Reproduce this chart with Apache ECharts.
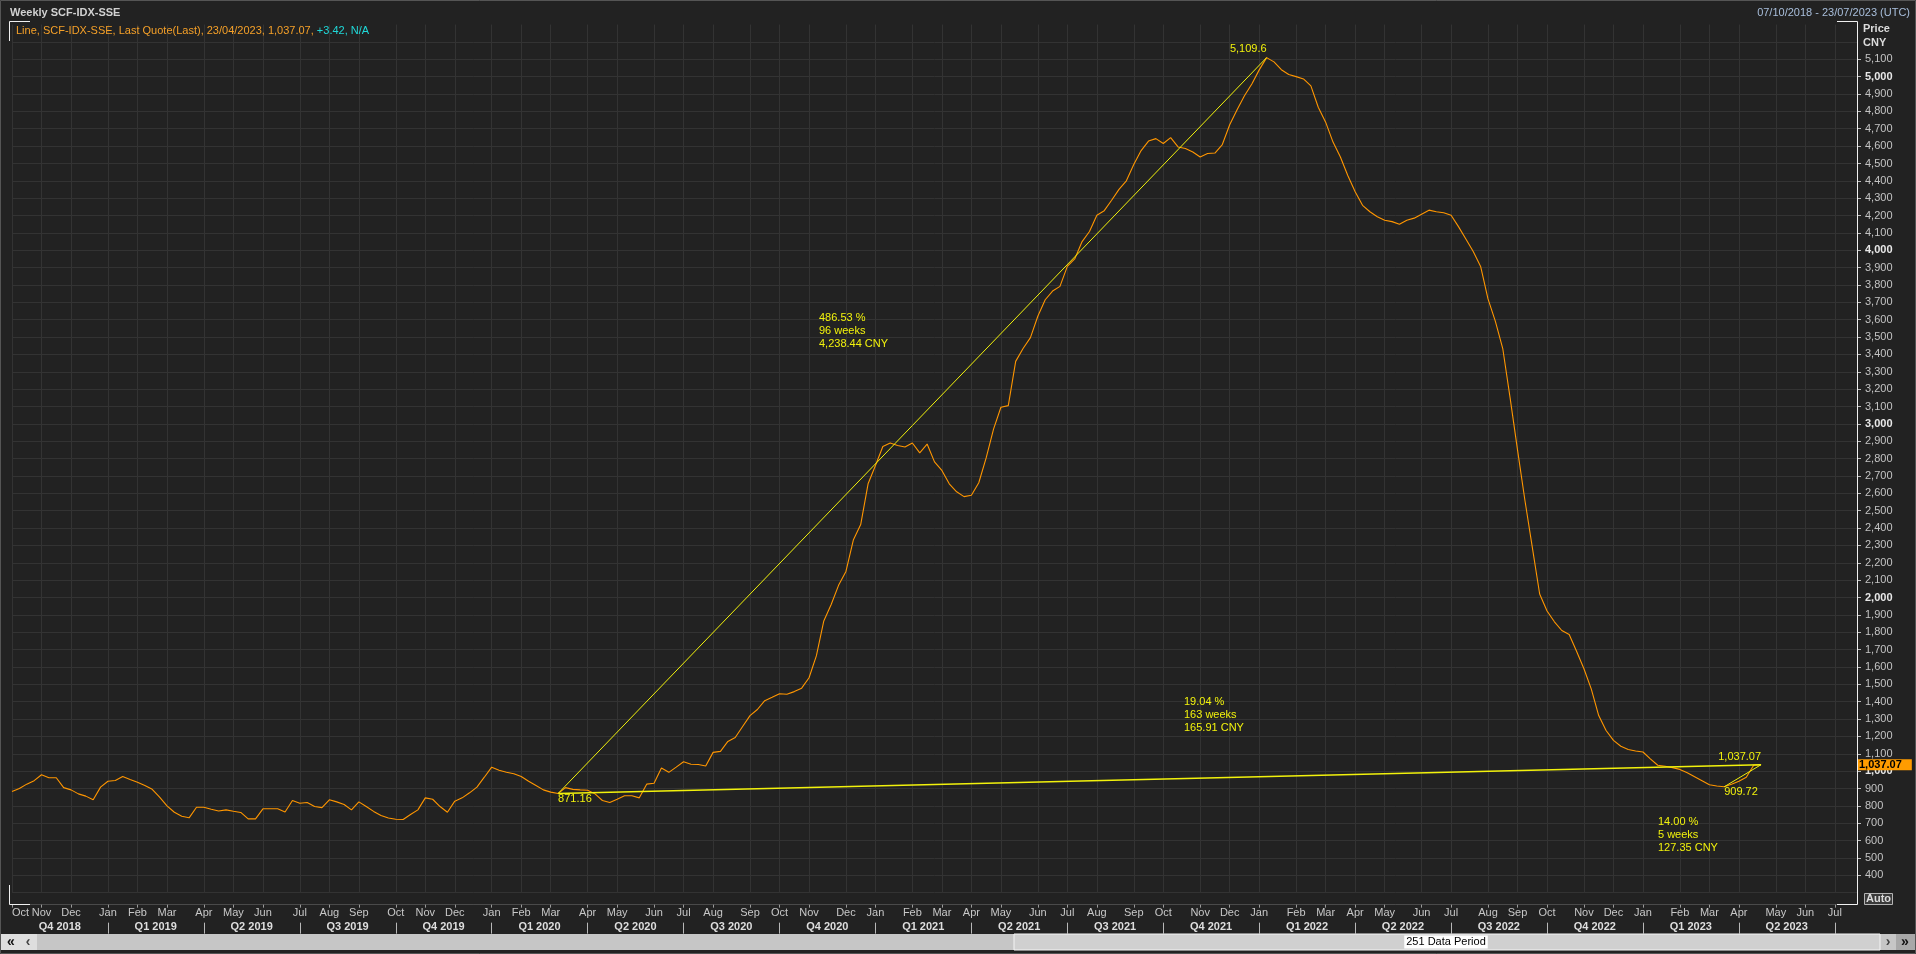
<!DOCTYPE html>
<html><head><meta charset="utf-8">
<script src="https://cdn.jsdelivr.net/npm/echarts@6/dist/echarts.min.js"></script>
<style>html,body{margin:0;padding:0;background:#222222;}#c{width:1916px;height:954px;}</style>
</head><body><div id="c"></div>
<script>
// ---------- DATA ----------
const startDate = [2018, 9, 7];          // 07/10/2018 (first weekly period)
const periodCount = 251;                  // 251 data periods shown on the axis
const monthNames = ['Jan','Feb','Mar','Apr','May','Jun','Jul','Aug','Sep','Oct','Nov','Dec'];
// Weekly SCF-IDX-SSE close (CNY), 07/10/2018 .. 23/04/2023
const prices = [
 882, 900, 925, 945, 979, 962, 962, 905, 892, 869,
 856, 835, 908, 942, 946, 969, 952, 936, 917, 895,
 850, 800, 763, 740, 731, 792, 792, 780, 770, 777,
 769, 762, 725, 725, 783, 783, 783, 765, 831, 815,
 819, 796, 790, 835, 823, 808, 777, 823, 796, 768,
 745, 730, 723, 721, 750, 777, 846, 838, 796, 763,
 827, 846, 875, 908, 965, 1023, 1005, 994, 985, 969,
 942, 917, 892, 879, 871.16, 905, 895, 892, 890, 869,
 831, 819, 838, 858, 858, 846, 925, 930, 1018, 993,
 1023, 1054, 1040, 1038, 1030, 1108, 1114, 1171, 1194, 1257,
 1320, 1355, 1406, 1425, 1446, 1443, 1458, 1478, 1538, 1665,
 1865, 1960, 2070, 2150, 2331, 2420, 2655, 2760, 2870, 2890,
 2876, 2867, 2890, 2833, 2884, 2781, 2732, 2655, 2609, 2581,
 2589, 2661, 2804, 2970, 3096, 3105, 3360, 3434, 3497, 3620,
 3715, 3765, 3792, 3907, 3950, 4050, 4108, 4202, 4228, 4288,
 4351, 4400, 4494, 4574, 4629, 4643, 4615, 4649, 4595, 4586,
 4566, 4537, 4557, 4560, 4609, 4723, 4809, 4890, 4958, 5039,
 5109.6, 5085, 5040, 5012, 5000, 4987, 4947, 4824, 4738, 4623,
 4537, 4431, 4337, 4259, 4222, 4193, 4173, 4165, 4150, 4173,
 4185, 4208, 4231, 4222, 4216, 4202, 4136, 4065, 3993, 3907,
 3720, 3590, 3434, 3148, 2850, 2560, 2290, 2020, 1922, 1860,
 1810, 1787, 1690, 1590, 1472, 1320, 1234, 1177, 1143, 1125,
 1116, 1110, 1071, 1034, 1028, 1020, 1010, 990, 968, 945,
 922, 914, 909.72, 925, 942, 965, 1033.65, 1037.07
];
// trend lines drawn between two weekly points (indices into prices)
const trendFrom = [74, 74, 232];
const trendTo   = [170, 237, 237];
const trendTexts = [
  ['486.53 %', '96 weeks', '4,238.44 CNY'],
  ['19.04 %', '163 weeks', '165.91 CNY'],
  ['14.00 %', '5 weeks', '127.35 CNY']
];
const pointLabelIdx = [74, 170, 237, 232];
const yTickMin = 400, yTickMax = 5100, yStep = 100;
const yGridMin = 300, yGridMax = 5300;

// ---------- build ----------
const categories = [];
for (let k = 0; k < periodCount; k++) {
  const d = new Date(Date.UTC(startDate[0], startDate[1], startDate[2]) + k * 7 * 86400000);
  categories.push(d.toISOString().slice(0, 10));
}
const monthOf = i => +categories[i].slice(5, 7);
const isMonthStart = i => i === 0 || monthOf(i) !== monthOf(i - 1);
const isQuarterStart = i => i > 0 && isMonthStart(i) && (monthOf(i) - 1) % 3 === 0;
const isQLabel = i => i >= 6 && (isQuarterStart(i - 6) || i - 6 === 0);
const fmtNum = v => String(v).replace(/\B(?=(\d{3})+(?!\d))/g, ',');
const fmt2 = v => { const s = v.toFixed(2).split('.'); return fmtNum(+s[0]) + '.' + s[1]; };

const YEL = '#f2f20c';
const ORANGE = '#ff9600';
const FONT = 'Liberation Sans, Arial, sans-serif';
const lastIdx = prices.length - 1;

const markLineData = trendFrom.map((f, k) => ([
  { coord: [categories[f], prices[f]], lineStyle: { color: YEL, width: k === 1 ? 1.6 : 1, type: 'solid' }, label: { show: false } },
  { coord: [categories[trendTo[k]], prices[trendTo[k]]] }
]));
markLineData.push({
  yAxis: prices[lastIdx],
  lineStyle: { color: 'rgba(0,0,0,0)', width: 1, type: 'solid' },
  label: {
    show: true, position: 'end', distance: 0, formatter: fmt2(prices[lastIdx]),
    backgroundColor: '#ff9c00', color: '#000', fontWeight: 'bold', fontSize: 11,
    fontFamily: FONT, padding: [0, 10, 0, 2], lineHeight: 11
  }
});

const labelFmt = [v => fmt2(v), v => fmtNum(Math.floor(v)) + '.' + String(v).split('.')[1], v => fmt2(v), v => fmt2(v)];
const labelPos = [
  { align: 'left', verticalAlign: 'top', offset: [0, 0] },
  { align: 'right', verticalAlign: 'bottom', offset: [0, -3] },
  { align: 'right', verticalAlign: 'bottom', offset: [0, -2] },
  { align: 'left', verticalAlign: 'top', offset: [0, 0] }
];
const markPointData = pointLabelIdx.map((idx, k) => ({
  coord: [categories[idx], prices[idx]],
  symbolSize: 0,
  label: Object.assign({
    show: true, position: 'inside', formatter: labelFmt[k](prices[idx]),
    color: YEL, fontSize: 11, fontFamily: FONT
  }, labelPos[k])
}));

const annotPos = [[819, 311], [1184, 695], [1658, 815]];
const graphics = [
  // outer border
  { type: 'rect', z: 100, shape: { x: 0.5, y: 0.5, width: 1915, height: 953 }, style: { fill: null, stroke: '#555', lineWidth: 1 } },
  { type: 'text', z: 100, style: { text: 'Weekly SCF-IDX-SSE', x: 10, y: 12.5, fill: '#d2d2d2', font: 'bold 11px ' + FONT, textVerticalAlign: 'middle', verticalAlign: 'middle' } },
  { type: 'text', z: 100, style: {
      text: '{o|Line, SCF-IDX-SSE, Last Quote(Last), 23/04/2023, ' + fmt2(prices[lastIdx]) + ', }{c|+3.42, N/A}',
      x: 16, y: 30.5, textVerticalAlign: 'middle', verticalAlign: 'middle',
      rich: { o: { fill: '#f5a028', color: '#f5a028', fontSize: 11, fontFamily: FONT }, c: { fill: '#20d8d8', color: '#20d8d8', fontSize: 11, fontFamily: FONT } }
  } },
  { type: 'text', z: 100, style: { text: '07/10/2018 - 23/07/2023 (UTC)', x: 1910, y: 12.5, fill: '#a9bfdc', font: '11px ' + FONT, textAlign: 'right', align: 'right', textVerticalAlign: 'middle', verticalAlign: 'middle' } },
  { type: 'text', z: 100, style: { text: 'Price', x: 1863, y: 28.5, fill: '#dcdcdc', font: 'bold 11px ' + FONT, textVerticalAlign: 'middle', verticalAlign: 'middle' } },
  { type: 'text', z: 100, style: { text: 'CNY', x: 1863, y: 43, fill: '#dcdcdc', font: 'bold 11px ' + FONT, textVerticalAlign: 'middle', verticalAlign: 'middle' } },
  // frame corners + right axis line
  { type: 'polyline', z: 100, shape: { points: [[9.5, 41], [9.5, 21.5], [30, 21.5]] }, style: { stroke: '#f0f0f0', lineWidth: 1, fill: null } },
  { type: 'polyline', z: 100, shape: { points: [[9.5, 885], [9.5, 904.5], [30, 904.5]] }, style: { stroke: '#f0f0f0', lineWidth: 1, fill: null } },
  { type: 'polyline', z: 100, shape: { points: [[1837, 21.5], [1857.5, 21.5], [1857.5, 904.5], [1837, 904.5]] }, style: { stroke: '#f0f0f0', lineWidth: 1, fill: null } },
  // Auto box
  { type: 'rect', z: 100, shape: { x: 1864.5, y: 893.5, width: 28, height: 11 }, style: { fill: '#3a3a3a', stroke: '#b4b4b4', lineWidth: 1 } },
  { type: 'text', z: 101, style: { text: 'Auto', x: 1878.5, y: 899, fill: '#dcdcdc', font: 'bold 11px ' + FONT, textAlign: 'center', align: 'center', textVerticalAlign: 'middle', verticalAlign: 'middle' } },
  // scrollbar
  { type: 'rect', z: 100, shape: { x: 1, y: 934, width: 1914, height: 16 }, style: { fill: '#c6c6c6' } },
  { type: 'rect', z: 100, shape: { x: 1, y: 934, width: 36, height: 16 }, style: { fill: '#dedede' } },
  { type: 'rect', z: 100, shape: { x: 1014, y: 934, width: 866, height: 16 }, style: { fill: '#d0d0d0', stroke: '#f4f4f4', lineWidth: 1 } },
  { type: 'rect', z: 100, shape: { x: 1896, y: 934, width: 19, height: 16 }, style: { fill: '#a8a8a8' } },
  { type: 'text', z: 101, style: { text: '«', x: 11, y: 942, fill: '#111', font: 'bold 14px ' + FONT, textAlign: 'center', align: 'center', textVerticalAlign: 'middle', verticalAlign: 'middle' } },
  { type: 'text', z: 101, style: { text: '‹', x: 28, y: 942, fill: '#444', font: 'bold 14px ' + FONT, textAlign: 'center', align: 'center', textVerticalAlign: 'middle', verticalAlign: 'middle' } },
  { type: 'text', z: 101, style: { text: '›', x: 1888, y: 942, fill: '#444', font: 'bold 14px ' + FONT, textAlign: 'center', align: 'center', textVerticalAlign: 'middle', verticalAlign: 'middle' } },
  { type: 'text', z: 101, style: { text: '»', x: 1905, y: 942, fill: '#111', font: 'bold 14px ' + FONT, textAlign: 'center', align: 'center', textVerticalAlign: 'middle', verticalAlign: 'middle' } },
  { type: 'text', z: 101, style: { text: periodCount + ' Data Period', x: 1446, y: 942, fill: '#000', font: '11px ' + FONT, textAlign: 'center', align: 'center', textVerticalAlign: 'middle', verticalAlign: 'middle', backgroundColor: '#ffffff', padding: [1, 2] } }
];
trendTexts.forEach((t, k) => {
  graphics.push({ type: 'text', z: 100, style: { text: t.join('\n'), x: annotPos[k][0], y: annotPos[k][1], fill: YEL, font: '11px ' + FONT, lineHeight: 13, textVerticalAlign: 'top', verticalAlign: 'top' } });
});

const chart = echarts.init(document.getElementById('c'), null, { renderer: 'canvas' });
chart.setOption({
  backgroundColor: '#222222',
  animation: false,
  textStyle: { fontFamily: FONT },
  grid: [
    { left: 12, right: 59, top: 24.56, bottom: 954 - 892.66 },
    { left: 12, right: 59, top: 59.3, bottom: 954 - 875.3 }
  ],
  xAxis: [
    {
      type: 'category', gridIndex: 0, data: categories, boundaryGap: false, position: 'bottom', offset: 12,
      axisLine: { show: true, lineStyle: { color: '#4a4a4a' } },
      axisTick: { show: true, interval: isMonthStart, length: 3, lineStyle: { color: '#9a9a9a' } },
      axisLabel: { interval: isMonthStart, alignMinLabel: 'left', formatter: v => monthNames[+v.slice(5, 7) - 1], color: '#c8c8c8', fontSize: 11, margin: 3, fontFamily: FONT },
      splitLine: { show: true, interval: isMonthStart, lineStyle: { color: '#333333' } }
    },
    {
      type: 'category', gridIndex: 0, data: categories, boundaryGap: false, position: 'bottom', offset: 30,
      axisLine: { show: false },
      axisTick: { show: true, interval: isQuarterStart, length: 11, lineStyle: { color: '#b8b8b8' } },
      axisLabel: {
        interval: isQLabel, margin: -1, color: '#dedede', fontWeight: 'bold', fontSize: 11, fontFamily: FONT, padding: [0, 0, 0, 7],
        formatter: (v, i) => { const d = categories[i - 6]; const m = +d.slice(5, 7); return 'Q' + (Math.floor((m - 1) / 3) + 1) + ' ' + d.slice(0, 4); }
      },
      splitLine: { show: false }
    },
    { type: 'category', gridIndex: 1, data: categories, boundaryGap: false, show: false }
  ],
  yAxis: [
    {
      type: 'value', gridIndex: 0, min: yGridMin, max: yGridMax, interval: yStep, position: 'right',
      axisLine: { show: false }, axisTick: { show: false }, axisLabel: { show: false },
      splitLine: { show: true, showMaxLine: false, lineStyle: { color: '#333333' } }
    },
    {
      type: 'value', gridIndex: 1, min: yTickMin, max: yTickMax, interval: yStep, position: 'right',
      axisLine: { show: false },
      axisTick: { show: true, length: 4, lineStyle: { color: '#bcbcbc' } },
      axisLabel: {
        margin: 8, color: '#c4c4c4', fontSize: 11, fontFamily: FONT,
        formatter: v => v % 1000 === 0 ? '{b|' + fmtNum(v) + '}' : fmtNum(v),
        rich: { b: { fontWeight: 'bold', color: '#e8e8e8', fontSize: 11, fontFamily: FONT } }
      },
      splitLine: { show: false }
    }
  ],
  series: [{
    type: 'line', xAxisIndex: 0, yAxisIndex: 0, data: prices, showSymbol: false, symbol: 'none',
    lineStyle: { color: ORANGE, width: 1.1 }, z: 3,
    markLine: { silent: true, symbol: ['none', 'none'], animation: false, lineStyle: { type: 'solid' }, label: { show: false }, data: markLineData },
    markPoint: { silent: true, symbol: 'circle', symbolSize: 0, animation: false, data: markPointData }
  }],
  graphic: graphics
});
</script></body></html>
